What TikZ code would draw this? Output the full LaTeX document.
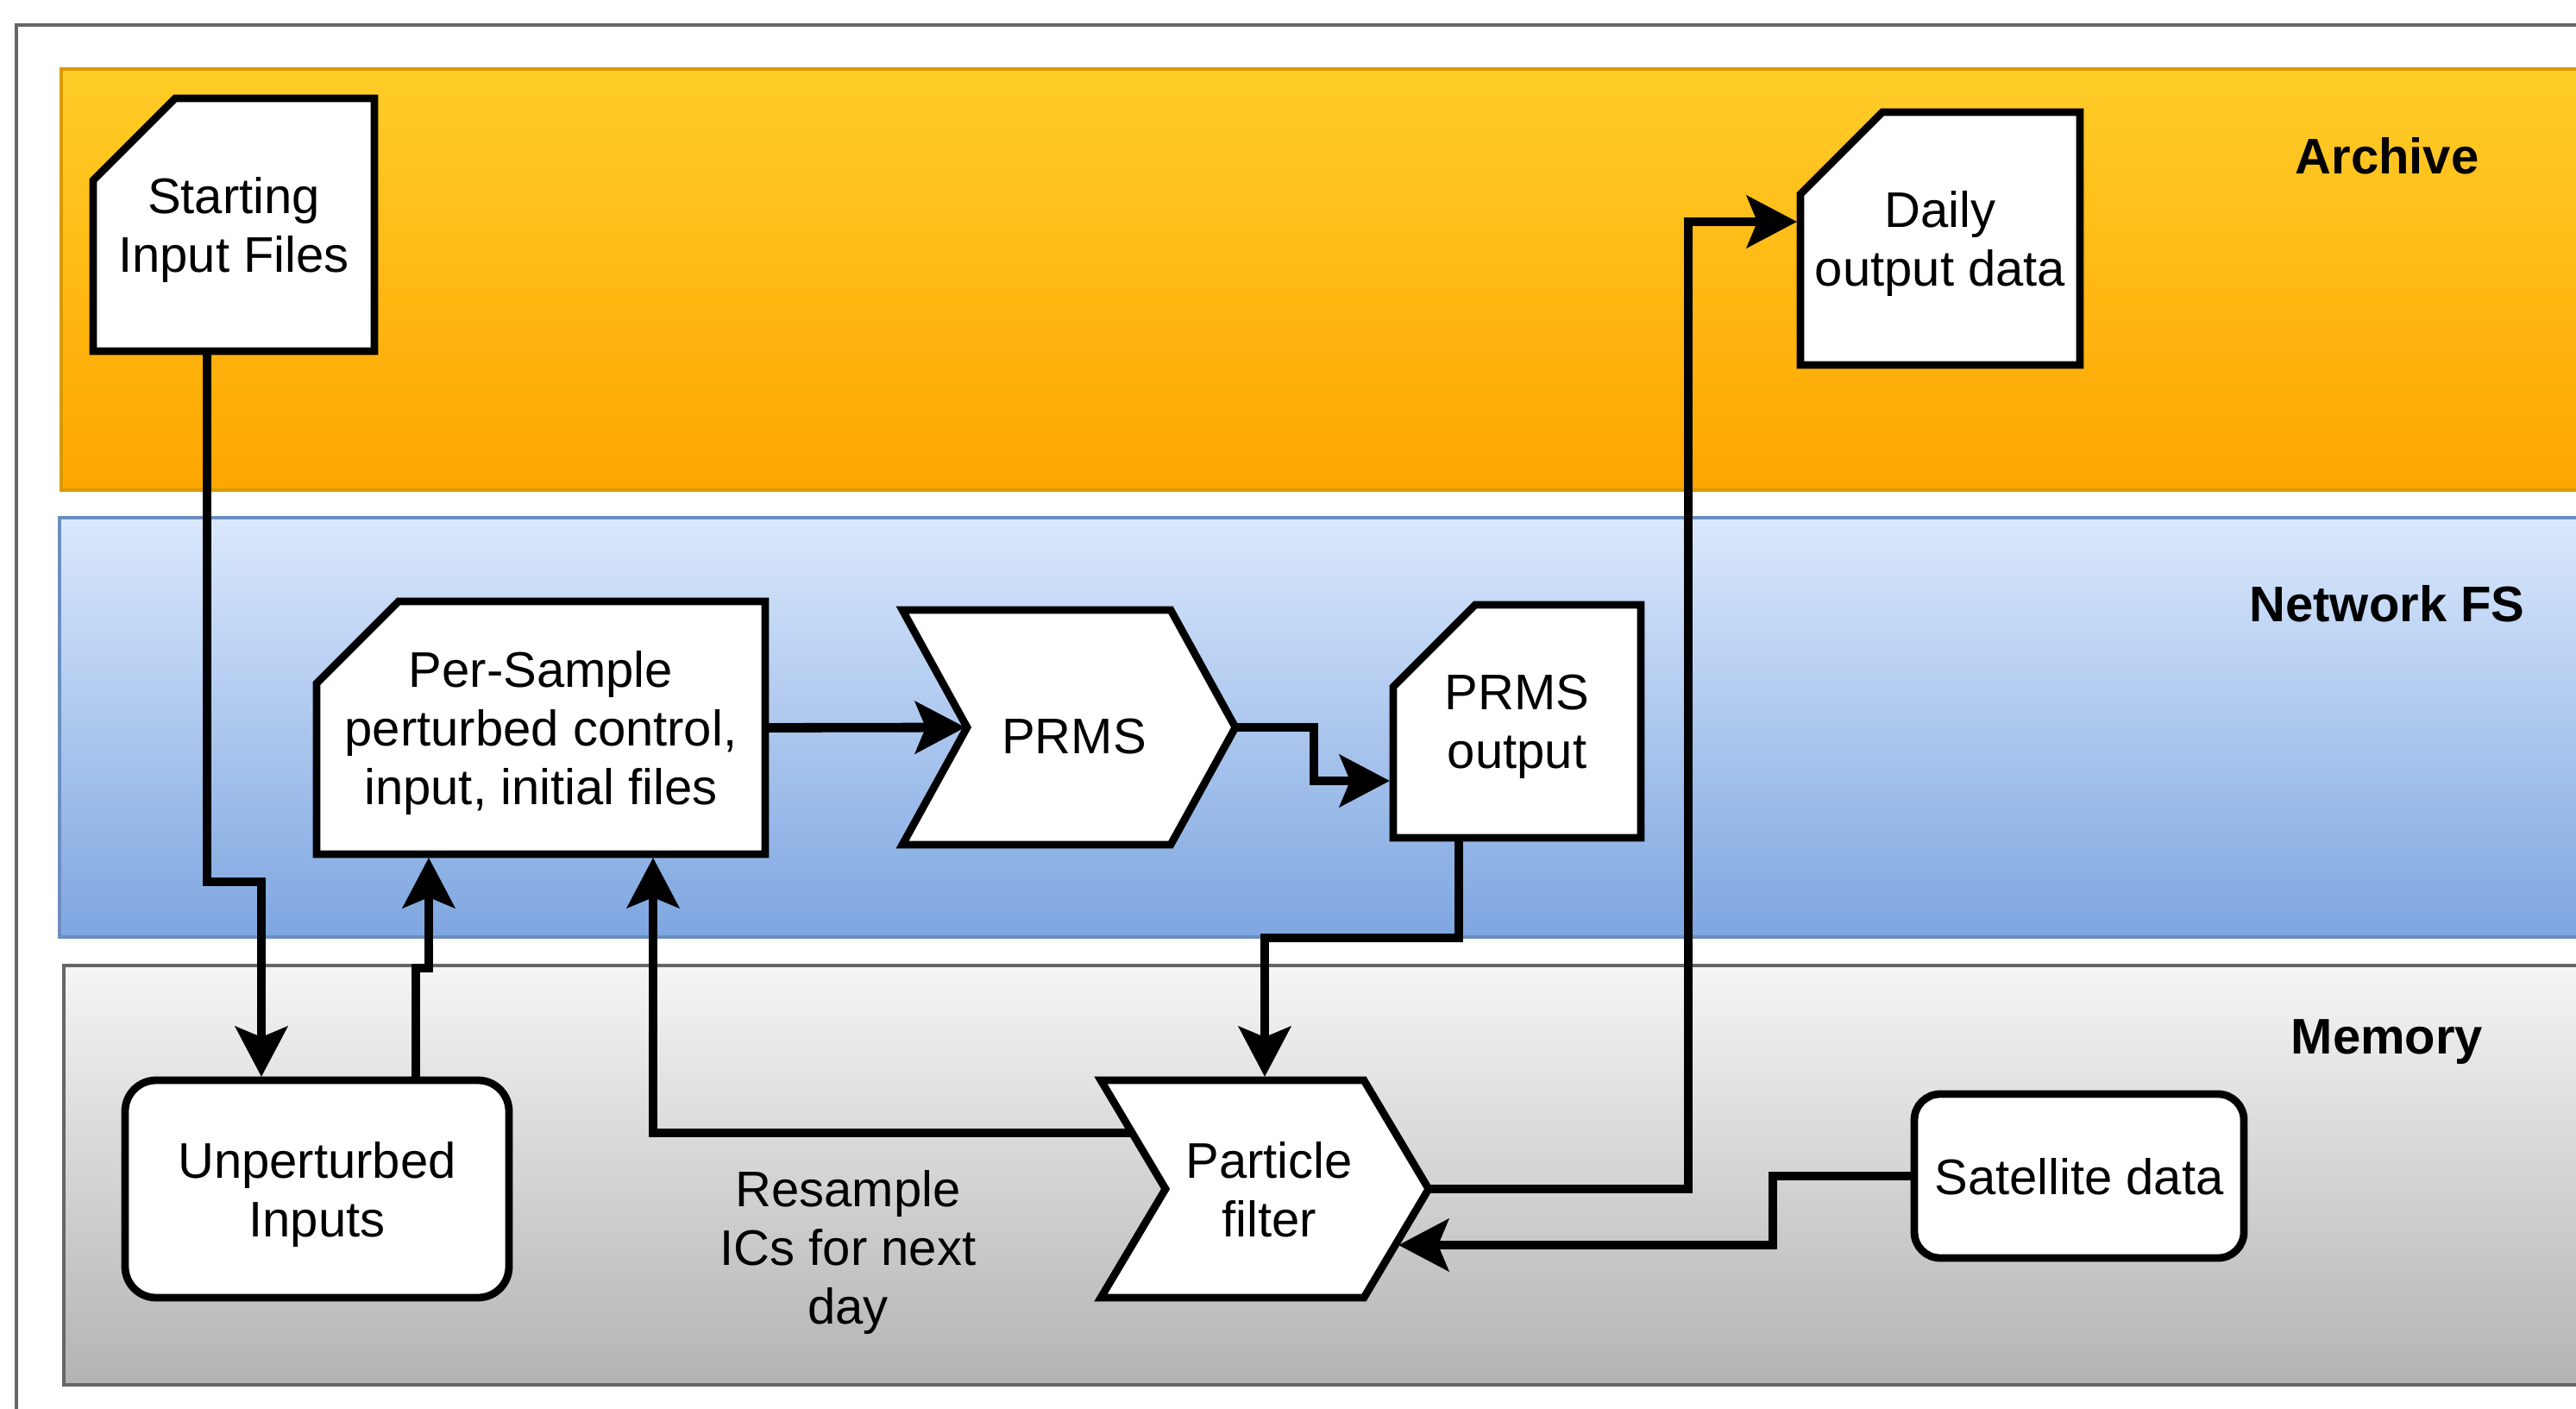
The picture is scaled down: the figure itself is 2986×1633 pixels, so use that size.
\documentclass[tikz,border=0pt]{standalone}
\usepackage{fontspec}
\setmainfont{Liberation Sans}
\usetikzlibrary{calc,arrows.meta}
\pgfdeclarelayer{bands}
\pgfdeclarelayer{shapes}
\pgfsetlayers{bands,shapes,main}
\definecolor{orTop}{HTML}{FFCD28}
\definecolor{orBot}{HTML}{FFA500}
\definecolor{orLine}{HTML}{D79B00}
\definecolor{blTop}{HTML}{DAE8FC}
\definecolor{blBot}{HTML}{7EA6E0}
\definecolor{blLine}{HTML}{6C8EBF}
\definecolor{grTop}{HTML}{F5F5F5}
\definecolor{grBot}{HTML}{B3B3B3}
\definecolor{grLine}{HTML}{666666}
\begin{document}
\begin{tikzpicture}[x=0.25pt,y=-0.25pt,
  every node/.style={font=\fontsize{14.5pt}{17pt}\selectfont, align=center, inner sep=0pt, outer sep=0pt, text depth=0pt},
  box/.style 2 args={minimum width=#1*0.25pt, minimum height=#2*0.25pt},
  outl/.style={draw=black, line width=2.2pt, fill=white},
  conn/.style={draw=black, line width=2.7pt, -{Stealth[length=14.5pt,width=15pt,inset=3pt]}},
  band/.style={line width=1.2pt},
  bandlbl/.style={font=\fontsize{14.5pt}{17pt}\selectfont\bfseries}]
\useasboundingbox (0,0) rectangle (2986,1633);

% ---------- bands ----------
\begin{pgfonlayer}{bands}
\begin{scope}
\clip (0,0) rectangle (2986,1633);
\fill[white] (0,0) rectangle (2986,1633);
\draw[draw=grLine, line width=1.1pt] (19,29) rectangle (3100,1700);
\draw[band, draw=orLine, top color=orTop, bottom color=orBot] (71,80) rectangle (3100,568);
\draw[band, draw=blLine, top color=blTop, bottom color=blBot] (69,600) rectangle (3100,1086);
\draw[band, draw=grLine, top color=grTop, bottom color=grBot] (74,1119) rectangle (3100,1605);
\end{scope}
\end{pgfonlayer}

\node[bandlbl] (archive) at (2767,181) {Archive};
\node[bandlbl] (netfs) at (2767,699) {Network FS};
\node[bandlbl] (memory) at (2767,1202) {Memory};

% ---------- nodes ----------
\node[box={326}{293}] (start) at (271,260.5) {Starting\\Input Files};
\node[box={520}{293}] (ps) at (627,843.5) {Per-Sample\\perturbed control,\\input, initial files};
\node[box={386}{272}, text height=15.5pt] (prms) at (1239,843) {\hspace*{3pt}PRMS};
\node[box={287}{270}] (po) at (1758.5,836) {PRMS\\output};
\node[box={324}{293}] (daily) at (2249,276.5) {Daily\\output data};
\node[box={380}{252}] (pf) at (1466,1378) {\hspace*{2.5pt}Particle\\\hspace*{2.5pt}filter};
\node[box={382}{190}] (sat) at (2410,1363) {Satellite data};
\node[box={445}{252}] (unp) at (367.5,1378) {Unperturbed\\Inputs};
\node (resample) at (983,1445) {Resample\\ICs for next\\day};

% ---------- shapes ----------
\begin{pgfonlayer}{shapes}
\foreach \n in {start,ps,po,daily}{
  \draw[outl] (\n.north east) -- (\n.south east) -- (\n.south west)
    -- ($(\n.north west)+(0,95)$) -- ($(\n.north west)+(95,0)$) -- cycle;
}
\foreach \n in {prms,pf}{
  \draw[outl] (\n.north west) -- ($(\n.north east)+(-75,0)$) -- (\n.east)
    -- ($(\n.south east)+(-75,0)$) -- (\n.south west) -- ($(\n.west)+(75,0)$) -- cycle;
}
\draw[outl, rounded corners=9pt] (unp.north west) rectangle (unp.south east);
\draw[outl, rounded corners=7.5pt] (sat.north west) rectangle (sat.south east);
\end{pgfonlayer}

% ---------- connectors ----------
\draw[conn] ($(start.south west)+(132,0)$) -- ++(0,615) -| ($(unp.north west)+(158,-4)$);
\draw[conn] ($(unp.north west)+(337,0)$) -- ++(0,-130) -| ($(ps.south west)+(130,4)$);
\draw[conn] (ps.east) -- ($(prms.west)+(73,0)$);
\draw[conn] (prms.east) -- ++(91,0) |- ($(po.west)+(-4,69)$);
\draw[conn] ($(po.south west)+(76,0)$) -- ++(0,116) -| ($(pf.north)+(0,-4)$);
\draw[conn] ($(pf.north west)+(36,61)$) -| ($(ps.south west)+(390,4)$);
\draw[conn] (pf.east) -- ++(301,0) |- ($(daily.west)+(-4,-19.5)$);
\draw[conn] (sat.west) -- ++(-164,0) |- ($(pf.east)+(-35,65)$);
\end{tikzpicture}
\end{document}
